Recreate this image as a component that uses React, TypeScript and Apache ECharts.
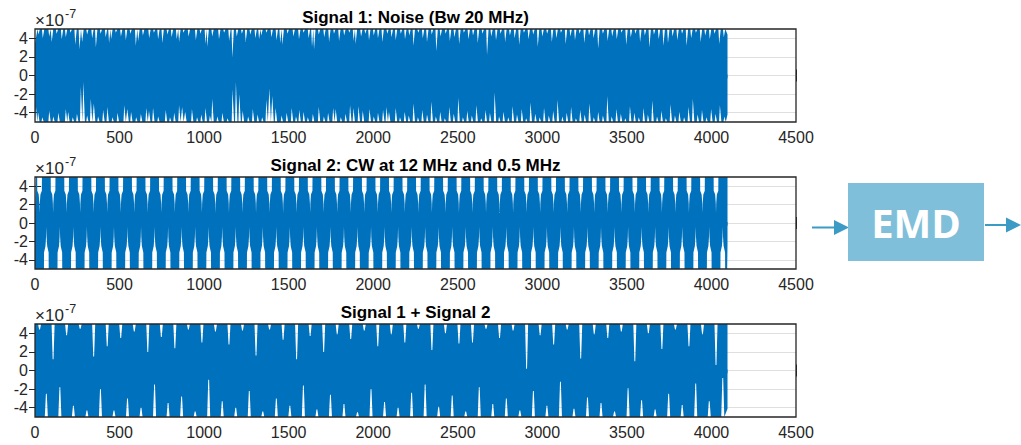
import React, { useEffect, useRef } from "react";
import * as echarts from "echarts";

// ---------- axes ----------
const xMin = 0;
const xMax = 4500;
const xStep = 500;
const yMin = -5;
const yMax = 5;
const yTickValues = [-4, -2, 0, 2, 4];
const lastSample = 4095;

const titles = [
  "Signal 1: Noise (Bw 20 MHz)",
  "Signal 2: CW at 12 MHz and 0.5 MHz",
  "Signal 1 + Signal 2",
];

// ---------- Signal 1 (noise): envelope, units of 1e-7 ----------
const s1TopStart = [[0, 3.5]];
const s1TopDips = [
  [22, 4.4], [48, 4.0], [86, 4.2], [101, 3.6], [130, 4.5], [160, 3.9], [184, 4.1], [212, 4.6],
  [240, 3.3], [265, 2.8], [281, 3.6], [310, 4.4], [340, 4.0], [362, 3.0], [390, 4.5], [420, 4.1],
  [440, 3.5], [452, 3.9], [480, 4.6], [510, 4.2], [539, 3.8], [566, 4.5], [598, 3.2], [612, 3.7],
  [640, 4.3], [677, 4.0], [705, 4.6], [730, 3.9], [755, 3.5], [785, 4.4], [810, 4.1], [840, 3.9],
  [854, 3.6], [880, 4.6], [910, 4.2], [953, 3.8], [980, 4.5], [1010, 3.4], [1021, 3.1], [1050, 4.2],
  [1090, 3.9], [1120, 4.6], [1150, 3.7], [1169, 1.9], [1195, 4.2], [1225, 4.5], [1248, 3.6], [1275, 4.4],
  [1305, 4.0], [1327, 3.9], [1340, 4.3], [1370, 4.6], [1400, 4.1], [1430, 3.8], [1452, 3.5], [1465, 3.3],
  [1495, 4.5], [1530, 4.2], [1563, 3.9], [1590, 4.6], [1620, 4.0], [1640, 3.1], [1652, 2.8], [1680, 4.4],
  [1712, 4.1], [1741, 3.6], [1770, 4.5], [1800, 3.7], [1830, 4.3], [1860, 4.6], [1886, 3.7], [1898, 3.4],
  [1930, 4.2], [1955, 4.5], [1977, 3.8], [2005, 4.3], [2030, 4.0], [2056, 3.6], [2085, 4.5], [2110, 4.1],
  [2135, 3.8], [2165, 4.5], [2190, 3.9], [2215, 4.3], [2240, 3.2], [2268, 4.6], [2295, 4.0], [2320, 3.6],
  [2348, 4.4], [2375, 2.6], [2400, 4.2], [2430, 4.5], [2455, 3.7], [2482, 4.1], [2510, 3.4], [2538, 4.6],
  [2565, 3.9], [2592, 4.3], [2620, 3.5], [2648, 4.5], [2675, 2.2], [2700, 4.2], [2728, 3.8], [2755, 4.5],
  [2782, 3.6], [2810, 4.3], [2838, 4.0], [2865, 3.3], [2893, 4.6], [2920, 3.9], [2948, 4.4], [2975, 3.1],
  [3002, 4.2], [3030, 4.5], [3058, 3.6], [3085, 4.0], [3112, 4.6], [3140, 3.4], [3168, 4.2], [3195, 3.8],
  [3222, 4.5], [3250, 3.5], [3278, 4.3], [3305, 4.0], [3332, 2.9], [3360, 4.5], [3388, 3.7], [3415, 4.2],
  [3442, 3.9], [3470, 4.6], [3498, 3.3], [3525, 4.1], [3552, 4.5], [3580, 3.6], [3608, 4.3], [3635, 3.0],
  [3662, 4.4], [3690, 3.9], [3718, 3.2], [3745, 3.5], [3772, 4.2], [3800, 3.8], [3828, 4.5], [3855, 3.2],
  [3882, 4.0], [3910, 4.6], [3938, 3.6], [3965, 4.3], [3992, 3.9], [4020, 4.5], [4048, 3.4], [4075, 4.1],
];
const s1TopEnd = [[lastSample, 4.4]];

const s1BottomStart = [[0, -3.5]];
const s1BottomDips = [
  [8, -3.4], [20, -3.9], [45, -4.5], [86, -3.8], [110, -4.4], [140, -4.0], [184, -3.6], [198, -3.9],
  [225, -4.5], [250, -4.1], [273, -1.2], [288, -0.7], [310, -4.3], [332, -2.5], [350, -3.0], [375, -4.4],
  [405, -3.7], [430, -3.4], [460, -4.5], [490, -4.0], [530, -3.2], [548, -3.6], [570, -3.9], [600, -4.5],
  [628, -4.1], [660, -3.5], [676, -3.8], [700, -3.5], [730, -4.4], [775, -3.7], [800, -4.5], [825, -4.0],
  [854, -3.2], [872, -3.4], [890, -3.9], [930, -3.6], [960, -4.5], [985, -4.2], [1010, -3.5], [1036, -4.3],
  [1050, -2.5], [1080, -4.4], [1110, -4.0], [1140, -4.6], [1170, -1.5], [1190, -0.7], [1210, -2.0], [1230, -3.8],
  [1262, -4.4], [1290, -3.6], [1318, -4.2], [1345, -4.5], [1370, -2.6], [1388, -1.4], [1405, -2.2], [1425, -3.5],
  [1460, -4.3], [1490, -4.0], [1520, -3.5], [1545, -4.4], [1565, -3.7], [1590, -3.9], [1615, -4.5], [1645, -4.1],
  [1680, -3.4], [1710, -4.4], [1735, -4.0], [1765, -3.5], [1780, -3.6], [1810, -4.5], [1838, -4.1], [1865, -3.2],
  [1885, -3.5], [1915, -3.3], [1940, -3.8], [1980, -3.6], [2005, -4.4], [2030, -4.0], [2060, -3.7], [2080, -3.4],
  [2095, -3.9], [2135, -3.5], [2160, -4.5], [2188, -3.9], [2212, -4.3], [2240, -3.0], [2266, -4.5], [2292, -3.7],
  [2320, -4.2], [2346, -2.8], [2372, -4.4], [2398, -3.9], [2425, -4.6], [2452, -3.4], [2478, -4.1], [2505, -2.4],
  [2532, -4.5], [2558, -3.8], [2585, -4.3], [2612, -3.2], [2640, -4.6], [2666, -3.7], [2692, -4.0], [2720, -1.8],
  [2746, -4.4], [2772, -3.9], [2800, -4.5], [2826, -3.3], [2852, -4.2], [2880, -3.6], [2906, -4.6], [2932, -2.9],
  [2960, -4.1], [2986, -4.5], [3012, -3.5], [3040, -4.3], [3066, -3.8], [3092, -2.6], [3120, -4.4], [3146, -4.0],
  [3172, -3.4], [3200, -4.6], [3226, -3.7], [3252, -4.2], [3280, -3.0], [3306, -4.5], [3332, -3.9], [3360, -4.3],
  [3386, -2.2], [3412, -4.4], [3440, -3.6], [3466, -4.1], [3492, -4.6], [3520, -3.3], [3546, -4.0], [3572, -4.5],
  [3600, -3.5], [3626, -4.2], [3652, -2.7], [3680, -4.4], [3706, -3.8], [3732, -4.6], [3760, -3.1], [3786, -4.3],
  [3812, -3.9], [3840, -4.5], [3866, -3.4], [3892, -2.5], [3920, -4.2], [3946, -3.7], [3972, -4.5], [4000, -3.6],
  [4026, -4.1], [4052, -3.2], [4078, -4.4],
];
const s1BottomEnd = [[lastSample, -4.2]];

// ---------- Signal 2 (CW): notch centres (samples) and notch outline [dx, value] ----------
const s2TopNotches = [
  27, 107, 187, 267, 347, 427, 507, 587, 667, 747, 827, 907, 987, 1067, 1147, 1227, 1307, 1387,
  1467, 1547, 1627, 1707, 1787, 1867, 1947, 2027, 2107, 2187, 2267, 2347, 2427, 2507, 2587, 2667,
  2747, 2827, 2907, 2987, 3067, 3147, 3227, 3307, 3387, 3467, 3547, 3627, 3707, 3787, 3867, 3947, 4027,
];
const s2BottomNotches = [
  67, 147, 227, 307, 387, 467, 547, 627, 707, 787, 867, 947, 1027, 1107, 1187, 1267, 1347, 1427,
  1507, 1587, 1667, 1747, 1827, 1907, 1987, 2067, 2147, 2227, 2307, 2387, 2467, 2547, 2627, 2707,
  2787, 2867, 2947, 3027, 3107, 3187, 3267, 3347, 3427, 3507, 3587, 3667, 3747, 3827, 3907, 3987, 4067,
];
const s2TopShape = [
  [-14, 5], [-13.5, 3.5], [-5, 3.1], [-1.5, 2.2], [0, 1.1], [1.5, 2.2], [5, 3.1], [13.5, 3.5], [14, 5],
];
const s2BottomShape = [
  [-14, -5], [-13.5, -3.2], [-5, -2.5], [-1.5, -1.5], [0, -0.4], [1.5, -1.5], [5, -2.5], [13.5, -3.2], [14, -5],
];
const s2TopStart = [[0, 1.0], [6, 5]];
const s2TopEnd = [[lastSample, 5]];
const s2BottomStart = [[0, -5]];
const s2BottomEnd = [[4093, -5], [lastSample, -2.4]];

// ---------- Signal 3 (sum): notch centres follow signal 2, tips read per notch ----------
const s3TopNotches = s2TopNotches.slice();
const s3TopTips = [
  4.4, 1.2, 3.8, 4.5, 1.5, 2.6, 3.5, 4.2, 2.0, 3.6, 2.4, 4.4, 3.0, 4.2, 2.8, 4.3, 1.6, 4.4,
  3.3, 1.2, 3.7, 2.0, 3.9, 3.4, 4.3, 2.6, 3.9, 3.0, 4.5, 2.2, 4.0, 2.9, 3.0, 4.5, 3.5, 4.3,
  0.2, 3.8, 2.8, 4.4, 1.3, 3.9, 3.5, 4.2, 1.0, 4.0, 2.3, 4.4, 2.6, 3.9, 0.6,
];
const s3BottomNotches = s2BottomNotches.slice();
const s3BottomTips = [
  -2.5, -1.8, -3.8, -4.3, -2.0, -4.3, -3.0, -4.0, -1.5, -3.5, -2.8, -4.4, -1.0, -3.3, -4.0, -2.2,
  -4.4, -3.0, -3.8, -1.6, -4.2, -2.6, -3.6, -4.5, -2.0, -3.4, -4.0, -2.4, -1.5, -3.9, -2.7, -4.4,
  -1.8, -3.6, -3.0, -4.3, -2.2, -3.8, -1.2, -4.1, -2.9, -3.5, -4.4, -1.9, -3.2, -4.2, -2.5, -3.7,
  -1.4, -3.3, -0.8,
];
const s3TopStart = [[0, 5]];
const s3TopEnd = [[lastSample, 5]];
const s3BottomStart = [[0, -5]];
const s3BottomEnd = [[lastSample, -4.1]];

// ---------- builders ----------
// each dip is drawn as a narrow slit: walls at +-hw from the centre, flat tip of +-flat
function dipEnvelope(start: number[][], dips: number[][], hw: number, flat: number, level: number, end: number[][]) {
  const pts: number[][] = start.map((p) => p.slice());
  for (let i = 0; i < dips.length; i++) {
    const [x, y] = dips[i];
    const prevX = i > 0 ? dips[i - 1][0] : -Infinity;
    const nextX = i < dips.length - 1 ? dips[i + 1][0] : Infinity;
    const left = Math.max(x - hw, (prevX + x) / 2);
    const right = Math.min(x + hw, (x + nextX) / 2);
    if (left > (pts.length ? pts[pts.length - 1][0] : -1)) pts.push([left, level]);
    pts.push([x - flat, y], [x + flat, y]);
    pts.push([right, level]);
  }
  end.forEach((p) => pts.push(p.slice()));
  return pts;
}
function shapeEnvelope(start: number[][], centers: number[], shape: number[][], end: number[][]) {
  const pts: number[][] = start.map((p) => p.slice());
  for (const c of centers) {
    for (const [dx, v] of shape) pts.push([c + dx, v]);
  }
  end.forEach((p) => pts.push(p.slice()));
  return pts;
}
const zip = (xs: number[], ys: number[]) => xs.map((x, i) => [x, ys[i]]);

const BLUE = "#0072BD";
const AXIS = "#262626";
const FONT = "Liberation Sans, Arial, Helvetica, sans-serif";

const gridTops = [29, 177, 324];
const gridHeights = [93, 92, 93];
const GRID_LEFT = 35;
const GRID_WIDTH = 761;

export default function App() {
  const ref = useRef<HTMLDivElement>(null);
  useEffect(() => {
    document.body.style.margin = "0";
    if (!ref.current) return;
    const chart = echarts.init(ref.current, undefined, { renderer: "svg" });

    const envelopes = [
      [
        dipEnvelope(s1TopStart, s1TopDips, 7, 2, yMax, s1TopEnd),
        dipEnvelope(s1BottomStart, s1BottomDips, 7, 2, yMin, s1BottomEnd),
      ],
      [
        shapeEnvelope(s2TopStart, s2TopNotches, s2TopShape, s2TopEnd),
        shapeEnvelope(s2BottomStart, s2BottomNotches, s2BottomShape, s2BottomEnd),
      ],
      [
        dipEnvelope(s3TopStart, zip(s3TopNotches, s3TopTips), 9, 2.5, yMax, s3TopEnd),
        dipEnvelope(s3BottomStart, zip(s3BottomNotches, s3BottomTips), 9, 2.5, yMin, s3BottomEnd),
      ],
    ];

    const grids: any[] = [];
    const xAxes: any[] = [];
    const yAxes: any[] = [];
    const series: any[] = [];
    const graphics: any[] = [];
    const txt = (x: number, y: number, text: string, size: number, weight: string, fill: string, align: string) => ({
      type: "text", x, y,
      style: {
        text, fontSize: size, fontWeight: weight, fontFamily: FONT, fill,
        textAlign: align, align, textVerticalAlign: "middle", verticalAlign: "middle",
      },
    });

    for (let i = 0; i < 3; i++) {
      grids.push({
        left: GRID_LEFT,
        top: gridTops[i],
        width: GRID_WIDTH,
        height: gridHeights[i],
        show: true,
        borderColor: AXIS,
        borderWidth: 1.3,
        backgroundColor: "transparent",
        z: 10,
      });
      const tick = { show: true, inside: true, length: 6, lineStyle: { color: AXIS, width: 1 } };
      xAxes.push({
        type: "value", gridIndex: i, position: "bottom", min: xMin, max: xMax, interval: xStep,
        axisLine: { show: false }, axisTick: tick, splitLine: { show: false },
        axisLabel: {
          color: AXIS, fontSize: 16, fontFamily: FONT, margin: 7,
          formatter: (v: number) => String(v),
        },
      });
      xAxes.push({
        type: "value", gridIndex: i, position: "top", min: xMin, max: xMax, interval: xStep,
        axisLine: { show: false }, axisTick: tick, splitLine: { show: false }, axisLabel: { show: false },
      });
      yAxes.push({
        type: "value", gridIndex: i, position: "left", min: yMin, max: yMax,
        axisLine: { show: false },
        axisTick: { ...tick, customValues: yTickValues },
        axisLabel: {
          color: AXIS, fontSize: 16, fontFamily: FONT, margin: 7, customValues: yTickValues,
          formatter: (v: number) => String(v),
        },
        splitLine: { show: true, lineStyle: { color: "#dfdfdf", width: 1 } },
      });
      yAxes.push({
        type: "value", gridIndex: i, position: "right", min: yMin, max: yMax,
        axisLine: { show: false },
        axisTick: { ...tick, customValues: yTickValues },
        axisLabel: { show: false, customValues: yTickValues },
        splitLine: { show: false },
      });
      const origins = [-0.3, 0.1];
      envelopes[i].forEach((env, k) => {
        series.push({
          type: "line", xAxisIndex: 2 * i, yAxisIndex: 2 * i, data: env,
          symbol: "none", showSymbol: false, silent: true, clip: true,
          lineStyle: { width: 0 },
          areaStyle: { color: BLUE, opacity: 1, origin: origins[k] },
          z: 2,
        });
      });
      const top = gridTops[i];
      graphics.push(txt(415.5, top - 11.5, titles[i], 17, "bold", "#000", "center"));
      graphics.push(txt(35, top - 8.5, "×10", 17, "normal", AXIS, "left"));
      graphics.push(txt(65, top - 15, "-7", 12.5, "normal", AXIS, "left"));
    }

    const ARROW = "#3b9bc4";
    graphics.push(
      { type: "line", shape: { x1: 812, y1: 227.5, x2: 836, y2: 227.5 }, style: { stroke: ARROW, lineWidth: 2 } },
      { type: "polygon", shape: { points: [[834, 220], [849, 227.5], [834, 235]] }, style: { fill: ARROW } },
      { type: "rect", shape: { x: 848, y: 183, width: 136, height: 78 }, style: { fill: "#7FBFDA" } },
      {
        type: "text", x: 916, y: 222.5,
        style: {
          text: "EMD", fontSize: 40, fontWeight: "bold", fontFamily: "Open Sans, DejaVu Sans, sans-serif",
          fill: "#ffffff", textAlign: "center", align: "center", textVerticalAlign: "middle", verticalAlign: "middle",
        },
      },
      { type: "line", shape: { x1: 985, y1: 225, x2: 1008, y2: 225 }, style: { stroke: ARROW, lineWidth: 2 } },
      { type: "polygon", shape: { points: [[1006, 217.5], [1021, 225], [1006, 232.5]] }, style: { fill: ARROW } }
    );

    chart.setOption({
      animation: false,
      backgroundColor: "#ffffff",
      grid: grids,
      xAxis: xAxes,
      yAxis: yAxes,
      series,
      graphic: graphics,
    });
    return () => chart.dispose();
  }, []);
  return (
    <div
      ref={ref}
      style={{ position: "absolute", left: 0, top: 0, width: 1021, height: 445 }}
    />
  );
}
